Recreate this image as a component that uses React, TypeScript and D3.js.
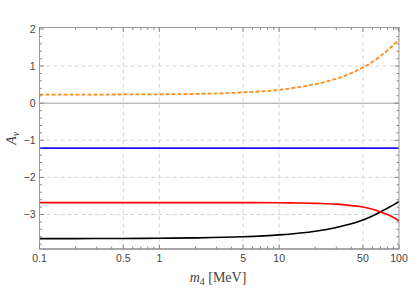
import React from "react";
import * as d3 from "d3";

const W = 419;
const H = 291;

const masses = [0.1, 0.2, 0.5, 1, 2, 5, 10, 15, 20, 30, 40, 50, 60, 70, 80, 90, 100];
const orangeVals = [0.23, 0.23, 0.235, 0.24, 0.25, 0.29, 0.36, 0.44, 0.51, 0.66, 0.81, 0.96, 1.11, 1.27, 1.42, 1.57, 1.72];
const blueVals = [-1.21, -1.21, -1.21, -1.21, -1.21, -1.21, -1.21, -1.21, -1.21, -1.21, -1.21, -1.21, -1.21, -1.21, -1.21, -1.21, -1.21];
const redVals = [-2.68, -2.68, -2.68, -2.68, -2.68, -2.68, -2.685, -2.69, -2.70, -2.72, -2.76, -2.80, -2.86, -2.93, -3.00, -3.08, -3.17];
const blackVals = [-3.65, -3.65, -3.645, -3.64, -3.63, -3.60, -3.55, -3.50, -3.45, -3.35, -3.25, -3.15, -3.04, -2.93, -2.83, -2.74, -2.65];

const xTicks = [0.1, 0.5, 1, 5, 10, 50, 100];
const xTickLabels = ["0.1", "0.5", "1", "5", "10", "50", "100"];
const xGrid = [0.5, 1, 5, 10, 50];
const yTicks = [-3, -2, -1, 0, 1, 2];
const yGrid = [-3, -2, -1, 1];

const L = 39.5, R = 399, T = 27.5, B = 249;

export default function App() {
  const x = d3.scaleLog().domain([0.1, 100]).range([L, R]);
  const y = d3.scaleLinear().domain([-3.93, 2.04]).range([B, T]);

  const line = (vals: number[]) =>
    d3.line<number>()
      .x((_, i) => x(masses[i]))
      .y((v) => y(v))
      .curve(d3.curveMonotoneX)(vals) || "";

  const minorX: number[] = [];
  [0.1, 1, 10].forEach((d) => {
    for (let k = 2; k <= 9; k++) if (k !== 5) minorX.push(d * k);
  });
  const minorY: number[] = [];
  for (let v = -3.8; v <= 2.0001; v += 0.2) {
    const r = Math.round(v * 10) / 10;
    if (Math.abs(r - Math.round(r)) > 0.01) minorY.push(r);
  }

  const frame = "#9a9a9a";
  const tickCol = "#8a8a8a";
  const labCol = "#444";
  const fs = 10.5;

  return (
    <svg width={W} height={H} style={{ position: "absolute", left: 0, top: 0 }}>
      <rect x={0} y={0} width={W} height={H} fill="white" />
      {/* grid */}
      {xGrid.map((g) => (
        <line key={"gx" + g} x1={x(g)} x2={x(g)} y1={T} y2={B} stroke="#d4d4d4" strokeWidth={1} strokeDasharray="4,3" />
      ))}
      {yGrid.map((g) => (
        <line key={"gy" + g} x1={L} x2={R} y1={y(g)} y2={y(g)} stroke="#d4d4d4" strokeWidth={1} strokeDasharray="4,3" />
      ))}
      <line x1={L} x2={R} y1={y(0)} y2={y(0)} stroke="#a0a0a0" strokeWidth={1} />

      {/* curves */}
      <path d={line(blackVals)} fill="none" stroke="#000" strokeWidth={1.6} />
      <path d={line(redVals)} fill="none" stroke="#ff0000" strokeWidth={1.6} />
      <path d={line(blueVals)} fill="none" stroke="#1414ff" strokeWidth={1.8} />
      <path d={line(orangeVals)} fill="none" stroke="#ff8c1a" strokeWidth={1.8} strokeDasharray="4,2" />

      {/* frame */}
      <rect x={L} y={T} width={R - L} height={B - T} fill="none" stroke={frame} strokeWidth={1} />
      <line x1={L} x2={R} y1={B} y2={B} stroke={frame} strokeWidth={1.6} />

      {/* x ticks */}
      {xTicks.map((t) => (
        <g key={"xt" + t}>
          <line x1={x(t)} x2={x(t)} y1={B} y2={B - 4.5} stroke={tickCol} />
          <line x1={x(t)} x2={x(t)} y1={T} y2={T + 4.5} stroke={tickCol} />
        </g>
      ))}
      {minorX.map((t) => (
        <g key={"xm" + t}>
          <line x1={x(t)} x2={x(t)} y1={B} y2={B - 2.5} stroke={tickCol} />
          <line x1={x(t)} x2={x(t)} y1={T} y2={T + 2.5} stroke={tickCol} />
        </g>
      ))}
      {yTicks.map((t) => (
        <g key={"yt" + t}>
          <line x1={L} x2={L + 4.5} y1={y(t)} y2={y(t)} stroke={tickCol} />
          <line x1={R} x2={R - 4.5} y1={y(t)} y2={y(t)} stroke={tickCol} />
        </g>
      ))}
      {minorY.map((t) => (
        <g key={"ym" + t}>
          <line x1={L} x2={L + 2.5} y1={y(t)} y2={y(t)} stroke={tickCol} />
          <line x1={R} x2={R - 2.5} y1={y(t)} y2={y(t)} stroke={tickCol} />
        </g>
      ))}

      {/* tick labels */}
      {xTicks.map((t, i) => (
        <text key={"xl" + t} x={x(t)} y={B + 13} textAnchor="middle" fontFamily="Liberation Sans, Arial, sans-serif" fontSize={fs} fill={labCol}>
          {xTickLabels[i]}
        </text>
      ))}
      {yTicks.map((t) => (
        <text key={"yl" + t} x={L - 4} y={y(t) + 3.8} textAnchor="end" fontFamily="Liberation Sans, Arial, sans-serif" fontSize={fs} fill={labCol}>
          {t < 0 ? "\u2212" + Math.abs(t) : String(t)}
        </text>
      ))}

      {/* axis labels */}
      <text x={218} y={282} textAnchor="middle" fontFamily="Liberation Serif, Times New Roman, serif" fontSize={14} fill="#444">
        <tspan fontStyle="italic">m</tspan>
        <tspan fontSize={10} dy={3}>4</tspan>
        <tspan dy={-3}> [MeV]</tspan>
      </text>
      <text transform={`translate(16, ${(T + B) / 2}) rotate(-90)`} textAnchor="middle" fontFamily="Liberation Serif, Times New Roman, serif" fontSize={14} fill="#444">
        <tspan fontStyle="italic">A</tspan>
        <tspan fontStyle="italic" fontSize={10} dy={3}>ν</tspan>
      </text>
    </svg>
  );
}
